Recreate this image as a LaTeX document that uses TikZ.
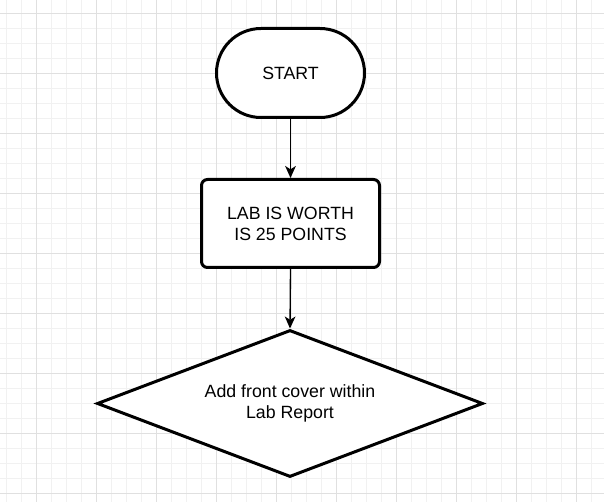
\documentclass[tikz,border=0pt]{standalone}
\usepackage{fontspec}
\setmainfont{Liberation Sans}
\usetikzlibrary{shapes.misc,shapes.geometric,arrows.meta}
\definecolor{minorgrid}{HTML}{F1F1F1}
\definecolor{majorgrid}{HTML}{E0E0E0}
\begin{document}
\begin{tikzpicture}[x=0.75pt,y=-0.75pt,
  shapeline/.style={draw=black,line width=2.25pt,fill=white,inner sep=0pt,
    font=\fontsize{13.3}{15.75}\selectfont,align=center},
  terminal/.style={shapeline,rounded rectangle,minimum width=111pt,minimum height=66.75pt},
  procbox/.style={shapeline,rectangle,rounded corners=4.5pt,minimum width=133.5pt,minimum height=66pt},
  decision/.style={shapeline,diamond,aspect=2.6,minimum width=289.5pt,minimum height=110.25pt},
  arr/.style={draw=black,line width=1pt,-{Stealth[length=9pt,width=8pt,inset=2.5pt]}}]
\useasboundingbox (0,0) rectangle (604,502);
\fill[white] (0,0) rectangle (604,502);
% minor grid
\foreach \i in {0,...,40} {
  \draw[minorgrid,line width=0.75pt] ({6.5+15*\i},0) -- ({6.5+15*\i},502);
}
\foreach \j in {0,...,34} {
  \draw[minorgrid,line width=0.75pt] (0,{-1+15*\j}) -- (604,{-1+15*\j});
}
% major grid
\foreach \i in {0,...,9} {
  \draw[majorgrid,line width=0.75pt] ({36.5+60*\i},0) -- ({36.5+60*\i},502);
}
\foreach \j in {0,...,8} {
  \draw[majorgrid,line width=0.75pt] (0,{14+60*\j}) -- (604,{14+60*\j});
}
\node[terminal] (start) at (290.5,73) {START};
\node[procbox] (lab) at (290.5,223.5) {LAB IS WORTH\\IS 25 POINTS};
\node[decision] (cover) at (290,403.5) {\raisebox{-2.5pt}{\begin{tabular}{@{}c@{}}Add front cover within\\Lab Report\end{tabular}}};
\draw[arr] (start.south) -- (lab.north);
\draw[arr] (lab.south) -- (cover.north);
\end{tikzpicture}
\end{document}
